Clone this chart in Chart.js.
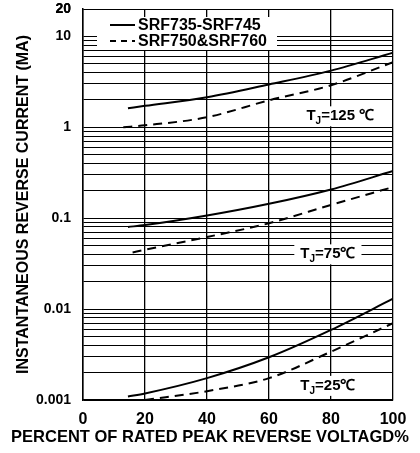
<!DOCTYPE html>
<html>
<head>
<meta charset="utf-8">
<script src="https://cdn.jsdelivr.net/npm/chart.js@4.4.1/dist/chart.umd.min.js"></script>
<style>
  body { margin: 0; background: #fff; }
  #wrap { width: 420px; height: 453px; }
</style>
</head>
<body>
<div id="wrap"><canvas id="grafico"></canvas></div>
<script>
// percent of rated peak reverse voltage
const pctSolid = [14.5, 20, 40, 60, 80, 100];
const pctDash125 = [13, 20, 40, 60, 80, 100];
const pctDash75 = [16, 20, 40, 60, 80, 100];
const pctDash25 = [20, 40, 60, 80, 100];

// reverse current (mA)
const solid125 = [1.62, 1.72, 2.14, 2.96, 4.2, 6.6];
const dash125 = [1.0, 1.05, 1.29, 1.98, 2.9, 5.2];
const solid75 = [0.080, 0.084, 0.107, 0.144, 0.207, 0.33];
const dash75 = [0.042, 0.045, 0.062, 0.088, 0.14, 0.22];
const solid25 = [0.00109, 0.00118, 0.00174, 0.00295, 0.0059, 0.013];
const dash25 = [0.001, 0.00125, 0.00174, 0.0034, 0.0070];

const seriesNames = ['SRF735-SRF745', 'SRF750&SRF760'];
const xTicks = [0, 20, 40, 60, 80, 100];
const yTickValues = [0.001, 0.01, 0.1, 1, 10, 20];
const yTickLabels = ['0.001', '0.01', '0.1', '1', '10', '20'];
const mantisas = [1, 2, 3, 4, 5, 6, 7, 8, 9];
const tituloX = 'PERCENT OF RATED PEAK REVERSE VOLTAGD%';
const tituloY = 'INSTANTANEOUS REVERSE CURRENT (MA)';

// temperature labels: text, x, y
const etiquetasTj = [
    {temp: '=125 ℃', x: 83, y: 1.32},
    {temp: '=75℃', x: 79, y: 0.04},
    {temp: '=25℃', x: 79, y: 0.00143}
];

function puntos(xs, ys) {
    return ys.map((v, i) => ({x: xs[i], y: v}));
}

function serie(xs, ys, dashed, name) {
    return {
        label: name,
        data: puntos(xs, ys),
        borderColor: '#000',
        borderWidth: 2,
        borderDash: dashed ? [9, 6] : [],
        pointRadius: 0,
        fill: false,
        cubicInterpolationMode: 'monotone'
    };
}

// grid lines at 1..9 of every decade
const gridValues = [];
for (let e = -3; e <= 1; e++) {
    mantisas.forEach(m => {
        const v = +(m * Math.pow(10, e)).toPrecision(3);
        if (v <= 20) gridValues.push(v);
    });
}
gridValues.push(20);

const fuente = 'Liberation Sans, Arial, Helvetica, sans-serif';

const leyendaPlugin = {
    id: 'leyenda',
    afterDatasetsDraw(chart) {
        const ctx = chart.ctx;
        const sx = chart.scales.x, sy = chart.scales.y;
        ctx.save();
        // legend box
        ctx.fillStyle = '#fff';
        ctx.fillRect(97, 17, 180, 33);
        ctx.strokeStyle = '#000';
        ctx.lineWidth = 2;
        ctx.font = 'bold 16px ' + fuente;
        ctx.fillStyle = '#000';
        ctx.textBaseline = 'middle';
        seriesNames.forEach((name, i) => {
            const y = 25 + i * 16;
            ctx.setLineDash(i === 0 ? [] : [6, 5]);
            ctx.beginPath();
            ctx.moveTo(110, y);
            ctx.lineTo(135, y);
            ctx.stroke();
            ctx.fillText(name, 138, y + 1);
        });
        ctx.setLineDash([]);
        // Tj labels
        etiquetasTj.forEach(et => {
            const cx = sx.getPixelForValue(et.x);
            const cy = sy.getPixelForValue(et.y);
            ctx.font = 'bold 15px ' + fuente;
            const wT = ctx.measureText('T').width;
            const wRest = ctx.measureText(et.temp).width;
            ctx.font = 'bold 10px ' + fuente;
            const wJ = ctx.measureText('J').width;
            const total = wT + wJ + wRest;
            ctx.fillStyle = '#fff';
            ctx.fillRect(cx - total / 2 - 6, cy - 10, total + 12, 20);
            ctx.fillStyle = '#000';
            let x = cx - total / 2;
            ctx.font = 'bold 15px ' + fuente;
            ctx.textAlign = 'left';
            ctx.fillText('T', x, cy);
            x += wT;
            ctx.font = 'bold 10px ' + fuente;
            ctx.fillText('J', x, cy + 5);
            x += wJ;
            ctx.font = 'bold 15px ' + fuente;
            ctx.fillText(et.temp, x, cy);
        });
        // x axis title (wider than the plot area)
        ctx.font = 'bold 16.5px ' + fuente;
        ctx.textAlign = 'center';
        ctx.fillText(tituloX, 210, 437);
        ctx.restore();
    }
};

const ctx = document.getElementById('grafico').getContext('2d');
const chart = new Chart(ctx, {
    type: 'line',
    data: {
        datasets: [
            serie(pctSolid, solid125, false, seriesNames[0]),
            serie(pctDash125, dash125, true, seriesNames[1]),
            serie(pctSolid, solid75, false, seriesNames[0]),
            serie(pctDash75, dash75, true, seriesNames[1]),
            serie(pctSolid, solid25, false, seriesNames[0]),
            serie(pctDash25, dash25, true, seriesNames[1])
        ]
    },
    options: {
        responsive: true,
        maintainAspectRatio: false,
        animation: false,
        layout: {padding: {top: 9, right: 27, left: 0, bottom: 0}},
        plugins: {
            legend: {display: false},
            tooltip: {enabled: false}
        },
        scales: {
            x: {
                type: 'linear',
                min: 0,
                max: 100,
                afterBuildTicks: scale => {
                    scale.ticks = xTicks.map(v => ({value: v}));
                },
                afterFit: scale => { scale.height = 53; },
                grid: {color: '#000', lineWidth: 1.3, drawTicks: false},
                border: {color: '#000', width: 1.5},
                ticks: {
                    color: '#000',
                    padding: 10,
                    font: {family: fuente, size: 16, weight: 'bold'}
                }
            },
            y: {
                type: 'logarithmic',
                min: 0.001,
                max: 20,
                afterBuildTicks: scale => {
                    scale.ticks = gridValues.map(v => ({value: v}));
                },
                afterFit: scale => {
                    scale.width = 83;
                    scale.paddingTop = 0;
                    scale.paddingBottom = 0;
                },
                grid: {color: '#000', lineWidth: 1, drawTicks: false},
                border: {color: '#000', width: 1.5},
                ticks: {
                    autoSkip: false,
                    color: '#000',
                    padding: 12,
                    font: {family: fuente, size: 14, weight: 'bold', lineHeight: 0.2},
                    callback: v => {
                        const i = yTickValues.indexOf(v);
                        return i >= 0 ? yTickLabels[i] : '';
                    }
                },
                title: {
                    display: true,
                    text: tituloY,
                    color: '#000',
                    padding: {top: 14, bottom: 0},
                    font: {family: fuente, size: 16, weight: 'bold'}
                }
            }
        }
    },
    plugins: [leyendaPlugin]
});
</script>
</body>
</html>
